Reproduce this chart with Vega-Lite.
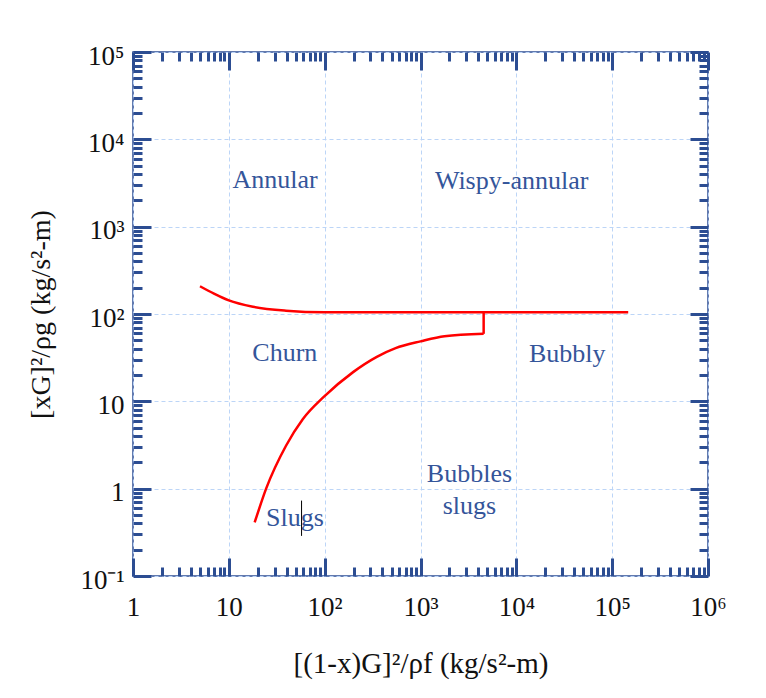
{
  "$schema": "https://vega.github.io/schema/vega-lite/v6.json",
  "width": 575,
  "height": 524,
  "autosize": {"type": "none"},
  "padding": {"left": 133, "top": 52, "right": 58, "bottom": 122},
  "background": "white",
  "config": {
    "view": {"stroke": "#2f4f95", "strokeWidth": 1.5},
    "font": "Liberation Serif"
  },
  "datasets": {
    "curves": [
      {"s": "upper", "i": 1, "x": 5.0, "y": 208},
      {"s": "upper", "i": 2, "x": 7, "y": 171},
      {"s": "upper", "i": 3, "x": 10, "y": 143},
      {"s": "upper", "i": 4, "x": 17.9, "y": 121},
      {"s": "upper", "i": 5, "x": 39.5, "y": 109},
      {"s": "upper", "i": 6, "x": 100, "y": 104.5},
      {"s": "upper", "i": 7, "x": 147000, "y": 104.5},
      {"s": "lower", "i": 1, "x": 18.6, "y": 0.41},
      {"s": "lower", "i": 2, "x": 24.5, "y": 1.0},
      {"s": "lower", "i": 3, "x": 39.5, "y": 3.1},
      {"s": "lower", "i": 4, "x": 58.8, "y": 6.2},
      {"s": "lower", "i": 5, "x": 98.4, "y": 11.3},
      {"s": "lower", "i": 6, "x": 198, "y": 21.6},
      {"s": "lower", "i": 7, "x": 350, "y": 32.3},
      {"s": "lower", "i": 8, "x": 550, "y": 40.6},
      {"s": "lower", "i": 9, "x": 1000, "y": 48.6},
      {"s": "lower", "i": 10, "x": 1780, "y": 55.7},
      {"s": "lower", "i": 11, "x": 4560, "y": 59.3},
      {"s": "link", "i": 1, "x": 4560, "y": 59.3},
      {"s": "link", "i": 2, "x": 4560, "y": 104.5}
    ],
    "regions": [
      {"label": "Annular", "x": 30.4, "y": 2800},
      {"label": "Wispy-annular", "x": 8930, "y": 2670},
      {"label": "Churn", "x": 38.4, "y": 28.8},
      {"label": "Bubbly", "x": 34000, "y": 28.3},
      {"label": "Bubbles", "x": 3240, "y": 1.19},
      {"label": "slugs", "x": 3240, "y": 0.515},
      {"label": "Slugs", "x": 48.9, "y": 0.372}
    ],
    "cursor": [
      {"x": 57.4, "y": 0.73, "y2": 0.288}
    ]
  },
  "layer": [
    {
      "data": {"name": "curves"},
      "mark": {"type": "line", "color": "#ff0000", "strokeWidth": 2.5, "interpolate": "monotone"},
      "encoding": {
        "x": {
          "field": "x", "type": "quantitative",
          "scale": {"type": "log", "domain": [1, 1000000], "nice": false},
          "axis": {
            "orient": "bottom",
            "title": "[(1-x)G]²/ρf (kg/s²-m)",
            "titleFont": "Liberation Serif", "titleFontSize": 29, "titleFontWeight": "normal", "titleColor": "#111111",
            "titlePadding": 20,
            "domain": false,
            "values": [1,2,3,4,5,6,7,8,9,10,20,30,40,50,60,70,80,90,100,200,300,400,500,600,700,800,900,1000,2000,3000,4000,5000,6000,7000,8000,9000,10000,20000,30000,40000,50000,60000,70000,80000,90000,100000,200000,300000,400000,500000,600000,700000,800000,900000,1000000],
            "tickColor": "#2c4d92", "tickWidth": 3,
            "tickSize": {"condition": {"test": "abs(log(datum.value)/LN10 - round(log(datum.value)/LN10)) < 0.001", "value": -18}, "value": -9},
            "grid": true, "gridColor": "#bcd5f7", "gridDash": [4, 3], "gridWidth": 1,
            "gridOpacity": {"condition": {"test": "abs(log(datum.value)/LN10 - round(log(datum.value)/LN10)) < 0.001", "value": 1}, "value": 0},
            "labelExpr": "abs(log(datum.value)/LN10 - round(log(datum.value)/LN10)) < 0.001 ? ['10⁻¹','1','10','10²','10³','10⁴','10⁵','10⁶'][round(log(datum.value)/LN10)+1] : ''",
            "labelOverlap": false, "labelFlush": false, "labelBound": false,
            "labelFont": "Liberation Serif", "labelFontSize": 27, "labelColor": "#111111",
            "labelPadding": 36
          }
        },
        "y": {
          "field": "y", "type": "quantitative",
          "scale": {"type": "log", "domain": [0.1, 100000], "nice": false},
          "axis": {
            "orient": "left",
            "title": "[xG]²/ρg (kg/s²-m)",
            "titleFont": "Liberation Serif", "titleFontSize": 28, "titleFontWeight": "normal", "titleColor": "#111111",
            "titlePadding": 24,
            "domain": false,
            "values": [0.1,0.2,0.3,0.4,0.5,0.6,0.7,0.8,0.9,1,2,3,4,5,6,7,8,9,10,20,30,40,50,60,70,80,90,100,200,300,400,500,600,700,800,900,1000,2000,3000,4000,5000,6000,7000,8000,9000,10000,20000,30000,40000,50000,60000,70000,80000,90000,100000],
            "tickColor": "#2c4d92", "tickWidth": 3,
            "tickSize": {"condition": {"test": "abs(log(datum.value)/LN10 - round(log(datum.value)/LN10)) < 0.001", "value": -18}, "value": -9},
            "grid": true, "gridColor": "#bcd5f7", "gridDash": [4, 3], "gridWidth": 1,
            "gridOpacity": {"condition": {"test": "abs(log(datum.value)/LN10 - round(log(datum.value)/LN10)) < 0.001", "value": 1}, "value": 0},
            "labelExpr": "abs(log(datum.value)/LN10 - round(log(datum.value)/LN10)) < 0.001 ? ['10⁻¹','1','10','10²','10³','10⁴','10⁵','10⁶'][round(log(datum.value)/LN10)+1] : ''",
            "labelOverlap": false, "labelFlush": false, "labelBound": false,
            "labelFont": "Liberation Serif", "labelFontSize": 27, "labelColor": "#111111",
            "labelPadding": 27, "labelOffset": 4
          }
        },
        "detail": {"field": "s"},
        "order": {"field": "i"}
      }
    },
    {
      "data": {"name": "regions"},
      "mark": {"type": "text", "font": "Liberation Serif", "fontSize": 26, "color": "#34559a", "align": "center", "baseline": "alphabetic"},
      "encoding": {
        "x": {"field": "x", "type": "quantitative", "axis": null},
        "y": {"field": "y", "type": "quantitative", "axis": null},
        "text": {"field": "label"}
      }
    },
    {
      "data": {"name": "cursor"},
      "mark": {"type": "rule", "color": "#000000", "strokeWidth": 1},
      "encoding": {
        "x": {
          "field": "x", "type": "quantitative",
          "axis": {
            "orient": "top", "title": null, "labels": false, "grid": false, "domain": false,
            "values": [1,2,3,4,5,6,7,8,9,10,20,30,40,50,60,70,80,90,100,200,300,400,500,600,700,800,900,1000,2000,3000,4000,5000,6000,7000,8000,9000,10000,20000,30000,40000,50000,60000,70000,80000,90000,100000,200000,300000,400000,500000,600000,700000,800000,900000,1000000],
            "tickColor": "#2c4d92", "tickWidth": 3,
            "tickSize": {"condition": {"test": "abs(log(datum.value)/LN10 - round(log(datum.value)/LN10)) < 0.001", "value": -18}, "value": -9}
          }
        },
        "y": {
          "field": "y", "type": "quantitative",
          "axis": {
            "orient": "right", "title": null, "labels": false, "grid": false, "domain": false,
            "values": [0.1,0.2,0.3,0.4,0.5,0.6,0.7,0.8,0.9,1,2,3,4,5,6,7,8,9,10,20,30,40,50,60,70,80,90,100,200,300,400,500,600,700,800,900,1000,2000,3000,4000,5000,6000,7000,8000,9000,10000,20000,30000,40000,50000,60000,70000,80000,90000,100000],
            "tickColor": "#2c4d92", "tickWidth": 3,
            "tickSize": {"condition": {"test": "abs(log(datum.value)/LN10 - round(log(datum.value)/LN10)) < 0.001", "value": -18}, "value": -9}
          }
        },
        "y2": {"field": "y2"}
      }
    }
  ],
  "resolve": {"axis": {"x": "independent", "y": "independent"}}
}
